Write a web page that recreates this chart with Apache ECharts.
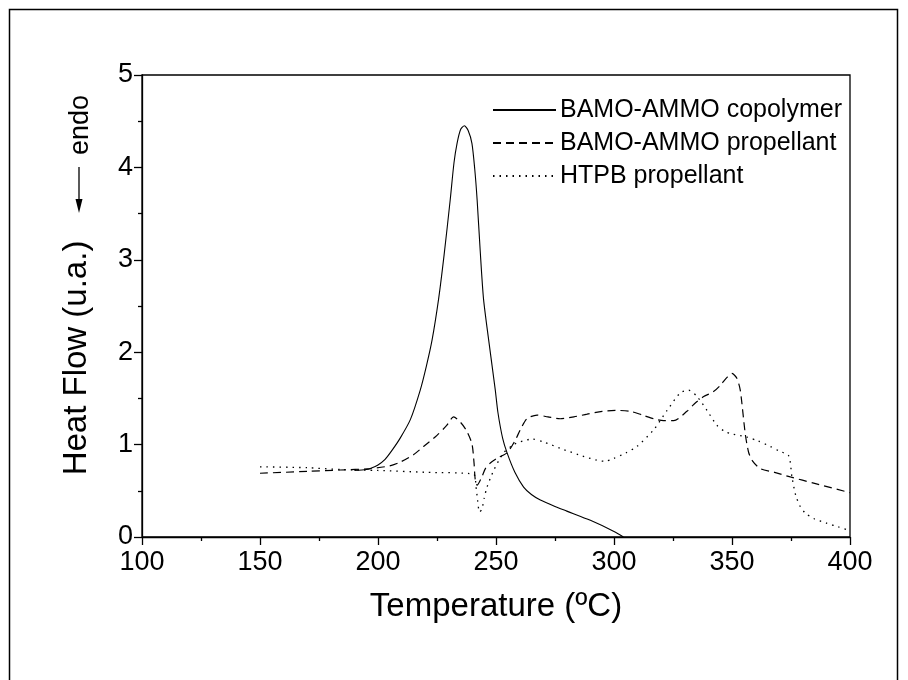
<!DOCTYPE html>
<html>
<head>
<meta charset="utf-8">
<script src="https://cdn.jsdelivr.net/npm/echarts@6/dist/echarts.min.js"></script>
<style>
  html, body { margin: 0; padding: 0; background: #fff; }
  #chart { width: 908px; height: 680px; }
</style>
</head>
<body>
<div id="chart"></div>
<script>
// BAMO-AMMO copolymer (solid)
const copolymerT = [190, 195, 197, 200, 203, 206, 209.4, 213.7, 217.9, 220.5, 222.9, 225.7, 228, 230.6, 232.2, 233.5, 235, 236.6, 238.2, 239.8, 241, 242, 243.3, 244.7, 246.9, 249.7, 250.8, 252.8, 254.7, 258, 261.7, 265, 268.8, 275, 280, 290, 300, 304];
const copolymerHF = [0.72, 0.73, 0.745, 0.78, 0.84, 0.94, 1.07, 1.27, 1.59, 1.85, 2.13, 2.58, 3.05, 3.65, 4.05, 4.26, 4.41, 4.45, 4.40, 4.26, 3.98, 3.65, 3.10, 2.58, 2.13, 1.59, 1.35, 1.07, 0.91, 0.70, 0.54, 0.46, 0.40, 0.33, 0.28, 0.18, 0.06, 0];

// BAMO-AMMO propellant (dashed)
const bamoPropT = [150, 170, 184, 196.7, 205, 209.4, 215, 219.3, 225, 229.2, 232, 235, 237.5, 239.8, 240.7, 241.2, 242, 244, 245.5, 247.6, 251, 254.7, 258, 260.3, 263.1, 267.4, 272, 277.2, 283, 288.6, 295, 300.6, 306.9, 312, 316.8, 321, 325.3, 330.9, 334, 338, 342, 345, 348, 350, 352, 353.5, 355.6, 357, 358.5, 362, 368, 374.7, 385, 400];
const bamoPropHF = [0.69, 0.71, 0.725, 0.74, 0.77, 0.81, 0.89, 0.98, 1.10, 1.21, 1.30, 1.24, 1.15, 1.01, 0.80, 0.62, 0.56, 0.65, 0.74, 0.80, 0.86, 0.91, 1.04, 1.16, 1.28, 1.32, 1.30, 1.28, 1.30, 1.33, 1.36, 1.37, 1.36, 1.32, 1.28, 1.26, 1.26, 1.36, 1.44, 1.52, 1.57, 1.64, 1.73, 1.77, 1.72, 1.59, 1.12, 0.92, 0.83, 0.74, 0.70, 0.65, 0.58, 0.48];

// HTPB propellant (dotted)
const htpbT = [150, 170, 184, 200, 220, 240.5, 241.5, 242.2, 243, 244, 245, 246.2, 249, 253.2, 257.5, 260.3, 265.3, 270, 277.2, 285, 292.8, 296, 299.8, 305, 309.7, 316.8, 322.5, 328.1, 331.6, 335.2, 339.4, 343.6, 347, 349.3, 356.4, 361, 366.2, 370, 374, 375.4, 377, 378.9, 381, 384.6, 390, 395, 400];
const htpbHF = [0.76, 0.75, 0.73, 0.72, 0.70, 0.68, 0.55, 0.40, 0.27, 0.30, 0.42, 0.54, 0.72, 0.91, 1.00, 1.03, 1.06, 1.03, 0.96, 0.89, 0.83, 0.82, 0.85, 0.91, 0.98, 1.16, 1.37, 1.56, 1.59, 1.52, 1.37, 1.21, 1.14, 1.12, 1.08, 1.04, 0.98, 0.93, 0.88, 0.65, 0.45, 0.33, 0.26, 0.20, 0.15, 0.11, 0.07];

const seriesNames = ['BAMO-AMMO copolymer', 'BAMO-AMMO propellant', 'HTPB propellant'];

const pairs = (xs, ys) => xs.map((x, i) => [x, ys[i]]);
const FONT = 'Liberation Sans, Arial, sans-serif';

const chart = echarts.init(document.getElementById('chart'));

const axisCommon = {
  axisLine: { onZero: false, lineStyle: { color: '#000', width: 1.3 } },
  axisTick: { inside: false, length: 8, lineStyle: { color: '#000', width: 1.3 } },
  minorTick: { show: true, splitNumber: 2, length: 4, lineStyle: { color: '#000', width: 1.3 } },
  splitLine: { show: false },
  minorSplitLine: { show: false },
  nameTextStyle: { color: '#000', fontSize: 33, fontFamily: FONT }
};

chart.setOption({
  animation: false,
  backgroundColor: '#fff',
  grid: { left: 142, right: 58, top: 75, bottom: 143, show: true, borderColor: '#000', borderWidth: 1.3 },
  legend: {
    data: seriesNames,
    orient: 'vertical',
    left: 487,
    top: 92,
    itemWidth: 63,
    itemHeight: 14,
    itemGap: 7,
    itemStyle: { opacity: 0 },
    textStyle: { color: '#000', fontSize: 25, fontFamily: FONT, lineHeight: 26, padding: [0, 0, 0, -1] }
  },
  xAxis: {
    ...axisCommon,
    type: 'value',
    min: 100,
    max: 400,
    interval: 50,
    name: 'Temperature (ºC)',
    nameLocation: 'middle',
    nameGap: 53,
    axisLabel: { color: '#000', fontSize: 27, fontFamily: FONT, margin: 12 }
  },
  yAxis: {
    ...axisCommon,
    type: 'value',
    min: 0,
    max: 5,
    interval: 1,
    axisLabel: { color: '#000', fontSize: 27, fontFamily: FONT, margin: 9 }
  },
  series: [
    {
      name: seriesNames[0], type: 'line', symbol: 'none', smooth: 0.25, data: pairs(copolymerT, copolymerHF),
      lineStyle: { color: '#000', width: 1.1, type: 'solid' }, itemStyle: { color: '#000' }
    },
    {
      name: seriesNames[1], type: 'line', symbol: 'none', smooth: 0.25, data: pairs(bamoPropT, bamoPropHF),
      lineStyle: { color: '#000', width: 1.2, type: [8, 5] }, itemStyle: { color: '#000' }
    },
    {
      name: seriesNames[2], type: 'line', symbol: 'none', smooth: 0.25, data: pairs(htpbT, htpbHF),
      lineStyle: { color: '#000', width: 1.3, type: [1.5, 5] }, itemStyle: { color: '#000' }
    }
  ],
  graphic: [
    { type: 'rect', shape: { x: 9.5, y: 9.5, width: 888, height: 700 }, style: { fill: 'none', stroke: '#000', lineWidth: 1.5 }, silent: true },
    { type: 'text', x: 77, y: 358, rotation: Math.PI / 2,
      style: { text: 'Heat Flow (u.a.)', font: '33px ' + FONT, fill: '#000', textAlign: 'center', textVerticalAlign: 'middle' } },
    { type: 'text', x: 81, y: 125, rotation: Math.PI / 2,
      style: { text: 'endo', font: '27px ' + FONT, fill: '#000', textAlign: 'center', textVerticalAlign: 'middle' } },
    { type: 'line', shape: { x1: 79, y1: 167, x2: 79, y2: 201 }, style: { stroke: '#000', lineWidth: 1.3 } },
    { type: 'polygon', shape: { points: [[75.5, 199], [82.5, 199], [79, 213]] }, style: { fill: '#000' } }
  ]
});
</script>
</body>
</html>
